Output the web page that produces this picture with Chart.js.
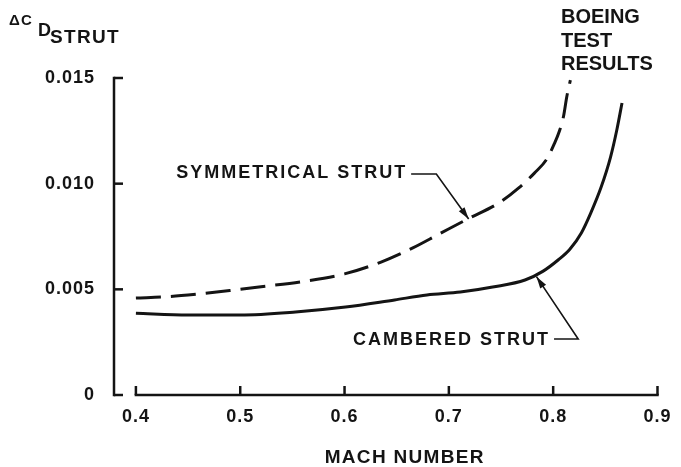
<!DOCTYPE html>
<html>
<head>
<meta charset="utf-8">
<style>
  html, body { margin: 0; padding: 0; background: #fff; }
  canvas { display: block; }
</style>
</head>
<body>
<canvas id="chart" width="681" height="467"></canvas>
<script src="https://cdn.jsdelivr.net/npm/chart.js@4.4.1/dist/chart.umd.min.js"></script>
<script>
/* global Chart */
const machTicks = [0.4, 0.5, 0.6, 0.7, 0.8, 0.9];
const dragTicks = [0, 0.005, 0.01, 0.015];
const dragTickLabels = ["0", "0.005", "0.010", "0.015"];

// Symmetrical strut (dashed curve)
const symmetricalMach = [0.4, 0.43, 0.46, 0.49, 0.52, 0.56, 0.6, 0.635, 0.665, 0.69, 0.718, 0.748, 0.767, 0.782, 0.794, 0.801, 0.806, 0.81, 0.813, 0.8165];
const symmetricalDrag = [0.00459, 0.00465, 0.00478, 0.00494, 0.00512, 0.00537, 0.00573, 0.00629, 0.00695, 0.0076, 0.00833, 0.00909, 0.0098, 0.0105, 0.01117, 0.01188, 0.01249, 0.0132, 0.0141, 0.0149];

// Cambered strut (solid curve)
const camberedMach = [0.4, 0.45, 0.5, 0.553, 0.601, 0.648, 0.679, 0.711, 0.742, 0.773, 0.79, 0.805, 0.816, 0.827, 0.836, 0.846, 0.855, 0.861, 0.866];
const camberedDrag = [0.00387, 0.00379, 0.00379, 0.00393, 0.00416, 0.0045, 0.00473, 0.00487, 0.00511, 0.00544, 0.00585, 0.0064, 0.0069, 0.00767, 0.00861, 0.00984, 0.01126, 0.01254, 0.01382];

(() => {
  const ink = "#141414";
  const family = "'Liberation Sans', Arial, sans-serif";

  Chart.defaults.font.family = family;
  Chart.defaults.font.weight = "bold";
  Chart.defaults.color = ink;

  const toPoints = (xs, ys) => xs.map((x, i) => ({ x, y: ys[i] }));

  // Callouts are anchored in data units so they follow the scales.
  const callouts = [
    { text: "SYMMETRICAL STRUT", at: [0.66, 0.0105], knee: [0.688, 0.01046], tip: [0.719, 0.00833] },
    { text: "CAMBERED STRUT", at: [0.797, 0.0026], knee: [0.824, 0.00265], tip: [0.784, 0.0056] },
  ];

  const drawText = (ctx, text, x, y, size, spacing, align = "left") => {
    ctx.font = `bold ${size}px ${family}`;
    ctx.letterSpacing = `${spacing}px`;
    ctx.textAlign = align;
    ctx.fillText(text, x, y);
  };

  const line = (ctx, x1, y1, x2, y2) => {
    ctx.beginPath();
    ctx.moveTo(x1, y1);
    ctx.lineTo(x2, y2);
    ctx.stroke();
  };

  const strutMarkup = {
    id: "strutMarkup",
    beforeDraw(chart) {
      chart.ctx.letterSpacing = "1px";
    },
    afterDraw(chart) {
      const { ctx, chartArea } = chart;
      const { x, y } = chart.scales;
      const left = chartArea.left;
      const bottom = chartArea.bottom;
      ctx.save();
      ctx.strokeStyle = ink;
      ctx.fillStyle = ink;

      // axis lines: y runs full height, x begins at the first tick
      ctx.lineWidth = 2.5;
      ctx.lineCap = "square";
      line(ctx, left, y.getPixelForValue(dragTicks[dragTicks.length - 1]), left, bottom);
      line(ctx, x.getPixelForValue(machTicks[0]), bottom, x.getPixelForValue(machTicks[machTicks.length - 1]), bottom);

      // inward tick marks
      ctx.lineCap = "butt";
      for (const v of machTicks) {
        const px = x.getPixelForValue(v);
        line(ctx, px, bottom, px, bottom - 9);
      }
      for (const v of dragTicks) {
        const py = y.getPixelForValue(v);
        line(ctx, left, py, left + 9, py);
      }

      // callout labels with leader arrows
      ctx.lineWidth = 1.6;
      for (const c of callouts) {
        const tx = x.getPixelForValue(c.at[0]);
        const ty = y.getPixelForValue(c.at[1]);
        ctx.textBaseline = "middle";
        drawText(ctx, c.text, tx, ty, 18, 2, "right");
        const kx = x.getPixelForValue(c.knee[0]);
        const ky = y.getPixelForValue(c.knee[1]);
        const px = x.getPixelForValue(c.tip[0]);
        const py = y.getPixelForValue(c.tip[1]);
        ctx.beginPath();
        ctx.moveTo(tx + 4, ky);
        ctx.lineTo(kx, ky);
        ctx.lineTo(px, py);
        ctx.stroke();
        const ang = Math.atan2(py - ky, px - kx);
        const cos = Math.cos(ang);
        const sin = Math.sin(ang);
        ctx.beginPath();
        ctx.moveTo(px, py);
        ctx.lineTo(px - 12 * cos + 3.5 * sin, py - 12 * sin - 3.5 * cos);
        ctx.lineTo(px - 12 * cos - 3.5 * sin, py - 12 * sin + 3.5 * cos);
        ctx.closePath();
        ctx.fill();
      }

      // axis titles and the source note
      ctx.textBaseline = "alphabetic";
      drawText(ctx, "\u0394", 9, 25, 15, 0);
      drawText(ctx, "C", 21, 25, 15, 0);
      drawText(ctx, "D", 38, 36, 18, 0);
      drawText(ctx, "STRUT", 50, 43, 19, 1.3);

      drawText(ctx, "BOEING", 561, 23, 20, 0);
      drawText(ctx, "TEST", 561, 47, 20, 0);
      drawText(ctx, "RESULTS", 561, 70, 20, 0);

      const mid = (x.getPixelForValue(machTicks[0]) + x.getPixelForValue(machTicks[machTicks.length - 1])) / 2;
      drawText(ctx, "MACH NUMBER", mid + 8, 463, 19, 1.3, "center");
      ctx.restore();
    },
  };

  // eslint-disable-next-line no-new
  new Chart(document.getElementById("chart"), {
    type: "line",
    plugins: [strutMarkup],
    data: {
      datasets: [
        {
          label: "Symmetrical strut",
          data: toPoints(symmetricalMach, symmetricalDrag),
          borderDash: [25, 10],
        },
        {
          label: "Cambered strut",
          data: toPoints(camberedMach, camberedDrag),
        },
      ],
    },
    options: {
      responsive: false,
      animation: false,
      events: [],
      layout: { padding: { top: 78, right: 13, left: 0, bottom: 0 } },
      elements: {
        point: { radius: 0 },
        line: {
          borderColor: ink,
          borderWidth: 3,
          cubicInterpolationMode: "monotone",
          borderCapStyle: "butt",
          fill: false,
        },
      },
      plugins: {
        legend: { display: false },
        tooltip: { enabled: false },
      },
      scales: {
        x: {
          type: "linear",
          min: 0.379,
          max: 0.9,
          afterBuildTicks: (s) => {
            s.ticks = machTicks.map((value) => ({ value }));
          },
          afterFit: (s) => {
            s.height = 72;
          },
          grid: { drawOnChartArea: false, drawTicks: false },
          border: { display: false },
          ticks: {
            padding: 11,
            font: { size: 18, weight: "bold" },
            color: ink,
            maxRotation: 0,
            callback: (v) => String(v),
          },
        },
        y: {
          type: "linear",
          min: 0,
          max: 0.015,
          afterBuildTicks: (s) => {
            s.ticks = dragTicks.map((value) => ({ value }));
          },
          afterFit: (s) => {
            s.width = 114;
          },
          grid: { drawOnChartArea: false, drawTicks: false },
          border: { display: false },
          ticks: {
            padding: 19,
            font: { size: 18, weight: "bold" },
            color: ink,
            callback: (v) => dragTickLabels[dragTicks.indexOf(v)] ?? "",
          },
        },
      },
    },
  });
})();
</script>
</body>
</html>
